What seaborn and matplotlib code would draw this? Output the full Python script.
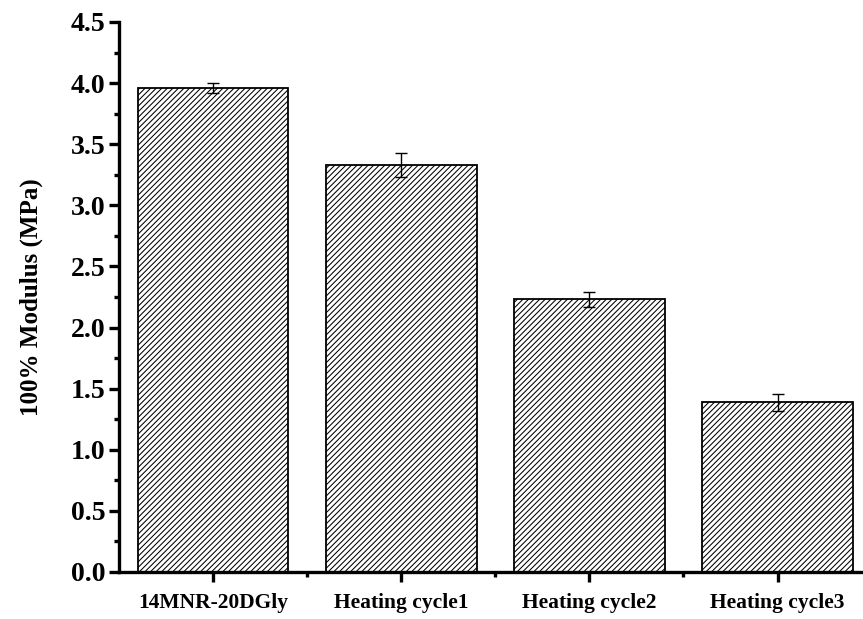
import matplotlib
matplotlib.use("Agg")
import matplotlib.pyplot as plt
import seaborn as sns
import pandas as pd
from matplotlib.ticker import MultipleLocator, FixedLocator, FormatStrFormatter

categories = ["14MNR-20DGly", "Heating cycle1", "Heating cycle2", "Heating cycle3"]
modulus = [3.96, 3.33, 2.23, 1.39]
modulus_err = [0.04, 0.10, 0.06, 0.07]

df = pd.DataFrame({"sample": categories, "modulus": modulus})

sns.set_style("ticks")
plt.rcParams["font.family"] = ["Liberation Serif", "DejaVu Serif"]
plt.rcParams["font.weight"] = "bold"
plt.rcParams["text.color"] = "black"
plt.rcParams["axes.labelcolor"] = "black"
plt.rcParams["xtick.color"] = "black"
plt.rcParams["ytick.color"] = "black"
plt.rcParams["axes.edgecolor"] = "black"
plt.rcParams["hatch.linewidth"] = 0.75

fig = plt.figure(figsize=(8.63, 6.19), dpi=100)
ax = fig.add_axes([0.138, 0.076, 0.872, 0.8885])

sns.barplot(data=df, x="sample", y="modulus", ax=ax, color="white",
            edgecolor="black", linewidth=1.3, width=0.8, errorbar=None,
            saturation=1)
for p in ax.patches:
    p.set_hatch("//////")
    p.set_facecolor("white")

ax.errorbar(range(len(categories)), modulus, yerr=modulus_err, fmt="none",
            ecolor="black", elinewidth=1.0, capsize=4.5, capthick=1.0)

ax.set_xlim(-0.5, 3.5)
ax.set_ylim(0, 4.5)
ax.yaxis.set_major_locator(MultipleLocator(0.5))
ax.yaxis.set_minor_locator(MultipleLocator(0.25))
ax.xaxis.set_minor_locator(FixedLocator([0.5, 1.5, 2.5]))
ax.yaxis.set_major_formatter(FormatStrFormatter("%.1f"))

for side in ["top", "right"]:
    ax.spines[side].set_visible(False)
for side in ["left", "bottom"]:
    ax.spines[side].set_linewidth(2.4)

ax.tick_params(axis="both", which="major", direction="out", length=7, width=2.4)
ax.tick_params(axis="both", which="minor", direction="out", length=3.5, width=2.4)
ax.tick_params(axis="y", labelsize=20, pad=3)
ax.tick_params(axis="x", labelsize=15.5, pad=8)
for lab in ax.get_xticklabels() + ax.get_yticklabels():
    lab.set_fontweight("bold")

ax.set_xlabel("")
ax.set_ylabel("100% Modulus (MPa)", fontsize=18, fontweight="bold", labelpad=20)

fig.savefig("out.png", dpi=100)
